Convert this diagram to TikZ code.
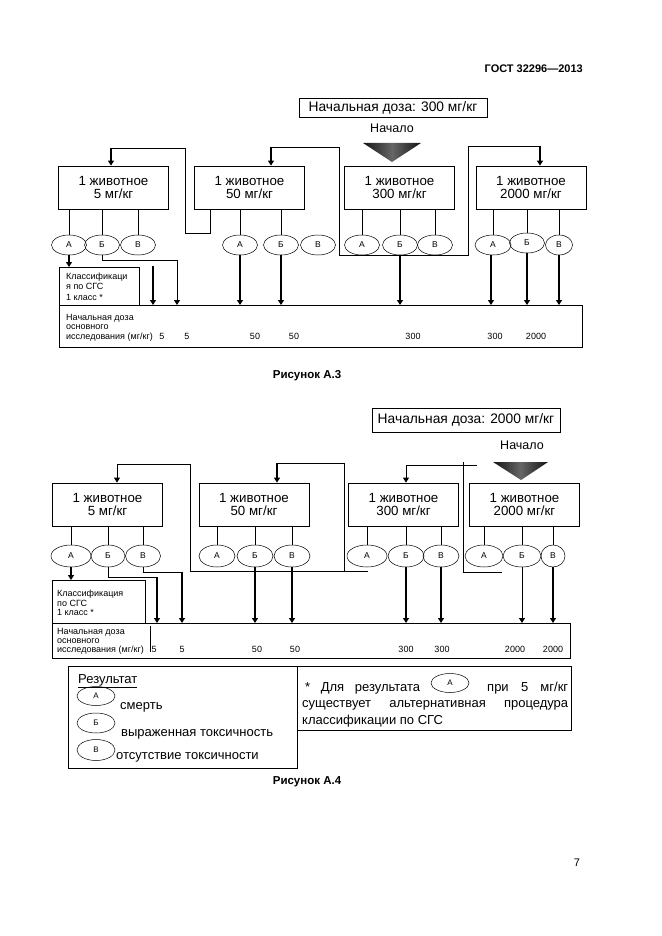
\documentclass[tikz,border=0pt]{standalone}
\usepackage{fontspec}
\setmainfont{Liberation Sans}
\usetikzlibrary{shapes.geometric,arrows.meta,calc}
\begin{document}
\begin{tikzpicture}[x=1pt,y=-1pt,
  box/.style={draw,line width=0.8pt,minimum width=110pt,minimum height=43pt,inner sep=0pt,align=center,font=\fontsize{13.3}{13.5}\selectfont},
  ell/.style={draw,ellipse,line width=0.5pt,minimum width=35pt,minimum height=20pt,inner sep=0pt,font=\fontsize{8.5}{8.5}\selectfont},
  lell/.style={draw,ellipse,line width=0.5pt,minimum width=38pt,minimum height=19pt,inner sep=0pt,font=\fontsize{8}{8}\selectfont},
  frame/.style={draw,line width=0.8pt,inner sep=0pt},
  ln/.style={line width=0.7pt},
  arr/.style={line width=1.8pt,-{Triangle[length=5pt,width=6pt]}},
  tarr/.style={line width=0.8pt,-{Triangle[length=5pt,width=6pt]}},
  big/.style={font=\fontsize{13.8}{15}\selectfont,inner sep=0pt},
  mid/.style={font=\fontsize{12.5}{14}\selectfont,inner sep=0pt},
  stxt/.style={font=\fontsize{9}{10}\selectfont,inner sep=0pt,anchor=base west},
  snum/.style={font=\fontsize{9}{10}\selectfont,inner sep=0pt,anchor=base},
  ltxt/.style={font=\fontsize{13}{15}\selectfont,inner sep=0pt,anchor=base west},
  rtxt/.style={font=\fontsize{13}{15}\selectfont,inner sep=0pt,anchor=base west},
  captxt/.style={font=\bfseries\fontsize{11.5}{13}\selectfont,inner sep=0pt},
  hdrtxt/.style={font=\bfseries\fontsize{11}{13}\selectfont,inner sep=0pt},
  tri/.style={left color=black!92,right color=black!92,middle color=black!60}
]
\useasboundingbox (0,0) rectangle (661,936);

% header
\node[hdrtxt,anchor=base east] (hdr) at (583,73) {ГОСТ 32296—2013};

% ================= Figure A.3 =================
\node[frame,big,minimum width=188pt,minimum height=19pt] (dose1) at (393,107.5) {Начальная доза: 300 мг/кг};
\node[mid] (start1) at (392,128) {Начало};
\shade[tri] (363,143) -- (421,143) -- (392,162) -- cycle;

\node[box] (a1) at (113.5,187.5) {1 животное\\5 мг/кг};
\node[box] (a2) at (249.5,187.5) {1 животное\\50 мг/кг};
\node[box] (a3) at (399.5,187.5) {1 животное\\300 мг/кг};
\node[box] (a4) at (531,187.5) {1 животное\\2000 мг/кг};

\node[ell] (a1A) at (69,245) {А};
\node[ell] (a1B) at (102,245) {Б};
\node[ell] (a1C) at (138,245) {В};
\node[ell] (a2A) at (240,245) {А};
\node[ell] (a2B) at (281,245) {Б};
\node[ell] (a2C) at (318,245) {В};
\node[ell] (a3A) at (362,245) {А};
\node[ell] (a3B) at (400,245) {Б};
\node[ell] (a3C) at (435,245) {В};
\node[ell,minimum width=36pt] (a4A) at (493,245) {А};
\node[ell] (a4B) at (527,243) {Б};
\node[ell,minimum width=27pt] (a4C) at (559,245) {В};

\foreach \e/\b in {a1A/a1,a1B/a1,a1C/a1,a2A/a2,a2B/a2,a3A/a3,a3B/a3,a3C/a3,a4A/a4,a4B/a4,a4C/a4}
  \draw[ln] (\e.north |- \b.south) -- (\e.north);

\node[frame,minimum width=523pt,minimum height=42pt,anchor=north west] (r1) at (59,305) {};
\node[frame,minimum width=80pt,minimum height=38pt,anchor=north west] (c1) at (59,267) {};

\node[stxt] (c1t1) at (66,279) {Классификаци};
\node[stxt] (c1t2) at (66,289) {я по СГС};
\node[stxt] (c1t3) at (66,300) {1 класс *};
\node[stxt] (r1t1) at (66,320) {Начальная доза};
\node[stxt] (r1t2) at (66,329.5) {основного};
\node[stxt] (r1t3) at (66,339) {исследования (мг/кг)};
\foreach \x/\v [count=\i] in {162/5,187/5,255/50,294/50,413/300,495/300,536/2000}
  \node[snum] (r1n\i) at (\x,339) {\v};

% arrows to result box
\draw[arr] (a1A.south) -- (a1A.south |- c1.north);
\coordinate (p1) at (177,260);
\draw[tarr] (a1B.south) |- (p1) -- (p1 |- r1.north);
\coordinate (q1) at (153,266);
\draw[arr] (q1) -- (q1 |- r1.north);
\draw[arr] (a2A.south) -- (a2A.south |- r1.north);
\draw[arr] (a2B.south) -- (a2B.south |- r1.north);
\draw[arr] (a3B.south) -- (a3B.south |- r1.north);
\coordinate (p4a) at (491,255);
\draw[arr] (p4a) -- (p4a |- r1.north);
\draw[arr] (a4B.south) -- (a4B.south |- r1.north);
\draw[arr] (a4C.south) -- (a4C.south |- r1.north);

% loops
\coordinate (l1a) at (210,233);
\coordinate (l1b) at (185,148);
\coordinate (l1c) at (111,148);
\draw[ln] (a2.south -| l1a) -- (l1a) -| (l1b) -- (l1c);
\draw[arr] (l1c) -- (l1c |- a1.north);

\coordinate (m1) at (271,147);
\coordinate (m2) at (339,255);
\coordinate (m3) at (468,146);
\coordinate (m4) at (540,146);
\draw[ln] (m1) -| (m2) -| (m3) -- (m4);
\draw[arr] (m1) -- (m1 |- a2.north);
\draw[arr] (m4) -- (m4 |- a4.north);

\node[captxt] (cap3) at (307,376) {Рисунок А.3};

% ================= Figure A.4 =================
\node[frame,big,minimum width=188pt,minimum height=24pt] (dose2) at (466,420) {Начальная доза: 2000 мг/кг};
\node[mid] (start2) at (522,445) {Начало};
\shade[tri] (493,462) -- (548,462) -- (521,480) -- cycle;

\node[box] (b1) at (107.5,504.5) {1 животное\\5 мг/кг};
\node[box] (b2) at (254,504.5) {1 животное\\50 мг/кг};
\node[box] (b3) at (403.5,504.5) {1 животное\\300 мг/кг};
\node[box] (b4) at (524.5,504.5) {1 животное\\2000 мг/кг};

\node[ell,minimum width=40pt,minimum height=22pt] (b1A) at (71,556) {А};
\node[ell,minimum width=34pt,minimum height=22pt] (b1B) at (108,556) {Б};
\node[ell,minimum width=35pt,minimum height=22pt] (b1C) at (143,556) {В};
\node[ell,minimum width=36pt,minimum height=22pt] (b2A) at (217,556) {А};
\node[ell,minimum width=36pt,minimum height=22pt] (b2B) at (255,556) {Б};
\node[ell,minimum width=36pt,minimum height=22pt] (b2C) at (292,556) {В};
\node[ell,minimum width=40pt,minimum height=22pt] (b3A) at (367,556) {А};
\node[ell,minimum width=36pt,minimum height=22pt] (b3B) at (406,556) {Б};
\node[ell,minimum width=36pt,minimum height=22pt] (b3C) at (441,556) {В};
\node[ell,minimum width=38pt,minimum height=22pt] (b4A) at (484,556) {А};
\node[ell,minimum width=38pt,minimum height=22pt] (b4B) at (522,556) {Б};
\node[ell,minimum width=24pt,minimum height=22pt] (b4C) at (553,556) {В};

\foreach \e/\b in {b1A/b1,b1B/b1,b1C/b1,b2A/b2,b2B/b2,b2C/b2,b3A/b3,b3B/b3,b3C/b3,b4A/b4,b4B/b4,b4C/b4}
  \draw[ln] (\e.north |- \b.south) -- (\e.north);

\node[frame,minimum width=518pt,minimum height=35pt,anchor=north west] (r2) at (52,623) {};
\node[frame,minimum width=93pt,minimum height=43pt,anchor=north west] (c2) at (52,580) {};
\coordinate (dv1) at (150,626);
\coordinate (dv2) at (150,652);
\draw[ln] (dv1) -- (dv2);

\node[stxt] (c2t1) at (57,596) {Классификация};
\node[stxt] (c2t2) at (57,606) {по СГС};
\node[stxt] (c2t3) at (57,615) {1 класс *};
\node[stxt] (r2t1) at (57,634) {Начальная доза};
\node[stxt] (r2t2) at (57,643) {основного};
\node[stxt] (r2t3) at (57,652) {исследования (мг/кг)};
\node[stxt] (r2n0) at (151.5,652) {5};
\foreach \x/\v [count=\i] in {182/5,257/50,295/50,406/300,442/300,515/2000,553/2000}
  \node[snum] (r2n\i) at (\x,652) {\v};

\draw[arr] (b1A.south) -- (b1A.south |- c2.north);
\coordinate (s1) at (157,577);
\draw[ln] (b1B.south) |- (s1);
\draw[arr] (s1) -- (s1 |- r2.north);
\coordinate (s2) at (143,572);
\coordinate (s3) at (182,572);
\draw[ln] (b1C.south) -- (s2) -- (s3);
\draw[arr] (s3) -- (s3 |- r2.north);
\draw[arr] (b2B.south) -- (b2B.south |- r2.north);
\draw[arr] (b2C.south) -- (b2C.south |- r2.north);
\draw[arr] (b3B.south) -- (b3B.south |- r2.north);
\draw[arr] (b3C.south) -- (b3C.south |- r2.north);
\draw[tarr] (b4B.south) -- (b4B.south |- r2.north);
\draw[arr] (b4C.south) -- (b4C.south |- r2.north);

% loops
\coordinate (n1) at (117,464);
\coordinate (n2) at (190,571);
\coordinate (n3) at (344,463);
\coordinate (n4) at (277,463);
\coordinate (n5) at (368,571);
\draw[ln] (n1) -| (n2) -- (n5);
\draw[ln] (n2 -| n3) -- (n3) -- (n4);
\draw[tarr] (n1) -- (n1 |- b1.north);
\draw[arr] (n4) -- (n4 |- b2.north);

\coordinate (o1) at (406,465);
\coordinate (o2) at (477,465);
\coordinate (o3) at (463,462);
\coordinate (o4) at (502,572);
\draw[ln] (o1) -- (o2);
\draw[ln] (o3) |- (o4);
\draw[tarr] (o1) -- (o1 |- b3.north);

% legend
\node[frame,minimum width=229pt,minimum height=102pt,anchor=north west] (lg) at (68,666) {};
\node[frame,minimum width=274pt,minimum height=64pt,anchor=north west] (nt) at (297,666) {};

\node[ltxt] (lgt) at (78,683) {\underline{Результат}};
\node[lell] (lgA) at (96,696) {А};
\node[ltxt] (lgA1) at (120,709) {смерть};
\node[lell,minimum height=20pt] (lgB) at (96,723) {Б};
\node[ltxt] (lgB1) at (121,736) {выраженная токсичность};
\node[lell,minimum height=21pt] (lgC) at (96,750) {В};
\node[ltxt] (lgC1) at (116,759) {отсутствие токсичности};

\node[rtxt] (nt1a) at (305,691) {\makebox[115pt][s]{* Для результата}};
\node[lell,minimum width=38pt] (ntA) at (450,683) {А};
\node[rtxt] (nt1b) at (487,691) {\makebox[81pt][s]{при 5 мг/кг}};
\node[rtxt] (nt2) at (302,707) {\makebox[266pt][s]{существует альтернативная процедура}};
\node[rtxt] (nt3) at (302,724) {классификации по СГС};

\node[captxt] (cap4) at (307,782) {Рисунок А.4};

\node[font=\fontsize{11}{12}\selectfont,inner sep=0pt] (pg) at (577,863) {7};
\end{tikzpicture}
\end{document}
